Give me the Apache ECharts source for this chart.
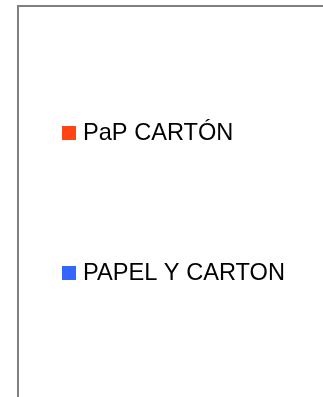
<!DOCTYPE html>
<html>
<head>
<meta charset="utf-8">
<script src="https://cdn.jsdelivr.net/npm/echarts@6/dist/echarts.min.js"></script>
<style>
  html, body { margin: 0; padding: 0; background: #fff; }
  #chart { width: 323px; height: 397px; }
</style>
</head>
<body>
<div id="chart"></div>
<script>
  // series shown in the legend; no plotted values are visible in the picture
  var seriesNames = ['PaP CARTÓN', 'PAPEL Y CARTON'];
  var seriesColors = ['#ff4514', '#3366ff'];
  var papCartonValues = [];
  var papelCartonValues = [];
  var categories = [];

  var chart = echarts.init(document.getElementById('chart'));
  chart.setOption({
    animation: false,
    backgroundColor: '#fff',
    graphic: [{
      type: 'rect',
      shape: { x: 18, y: 6, width: 420, height: 520 },
      style: { fill: 'none', stroke: '#808080', lineWidth: 2 },
      silent: true
    }],
    legend: {
      orient: 'vertical',
      left: 62,
      top: 121,
      padding: 0,
      itemWidth: 14,
      itemHeight: 14,
      itemGap: 116,
      icon: 'rect',
      data: seriesNames,
      textStyle: {
        fontFamily: 'Liberation Sans',
        fontSize: 23.6,
        lineHeight: 24,
        padding: [0, 0, 0, 2],
        color: '#000'
      }
    },
    grid: { show: false, left: 0, right: 0, top: 0, bottom: 0 },
    xAxis: { type: 'category', data: categories, show: false },
    yAxis: { type: 'value', show: false },
    series: [
      { name: seriesNames[0], type: 'bar', data: papCartonValues, itemStyle: { color: seriesColors[0] } },
      { name: seriesNames[1], type: 'bar', data: papelCartonValues, itemStyle: { color: seriesColors[1] } }
    ]
  });
</script>
</body>
</html>
